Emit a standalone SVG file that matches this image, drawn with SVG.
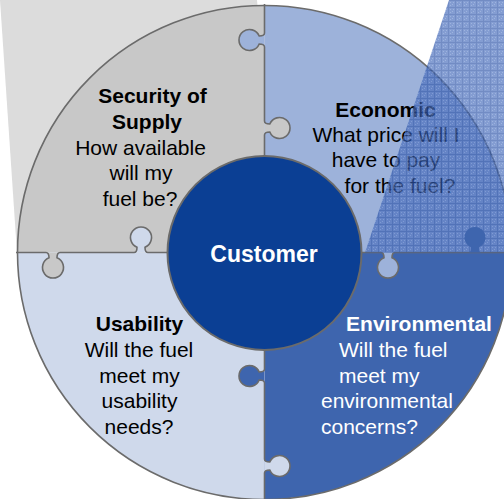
<svg xmlns="http://www.w3.org/2000/svg" width="504" height="499" viewBox="0 0 504 499">
<defs>
<pattern id="hatch" width="7" height="7" patternUnits="userSpaceOnUse">
<rect width="7" height="7" fill="#4a6fbd"/>
<path d="M0,0.5 H7 M0.5,0 V7" stroke="#2f56a8" stroke-width="1"/>
<rect x="2" y="2" width="1" height="1" fill="#6f8fcf"/>
<rect x="4" y="4" width="1" height="1" fill="#6f8fcf"/>
<rect x="2" y="5" width="1" height="1" fill="#6f8fcf"/>
<rect x="5" y="2" width="1" height="1" fill="#6f8fcf"/>
</pattern>
<style>
.t{font-family:"Liberation Sans",Arial,sans-serif;font-size:21px;fill:#000;text-anchor:middle}
.b{font-weight:bold}
.w{fill:#fff}
.s{text-anchor:start}
.line{fill:none;stroke:#6b6b6b;stroke-width:1.6}
</style>
</defs>
<polygon id="backdrop" points="0,0 257,0 268,120 17,253" fill="#dcdcdc"/>
<g id="security">
<path d="M264.5,252.5 L17.5,252.5 A247,247 0 0 1 264.5,5.5 Z" fill="#c8c8c8"/>
</g>
<g id="economic">
<path d="M264.5,252.5 V5.5 A247,247 0 0 1 511.5,252.5 Z" fill="#9db2da"/>
</g>
<g id="environmental">
<path d="M264.5,252.5 H511.5 A247,247 0 0 1 264.5,499.5 Z" fill="#3e65ae"/>
</g>
<g id="usability">
<path d="M264.5,252.5 V499.5 A247,247 0 0 1 17.5,252.5 Z" fill="#cfd9eb"/>
</g>
<g id="knobs">
<path d="M264.5,33 C264.5,35.5 262.5,36 259.2,36 A10.5,10.5 0 1 0 259.2,44 C262.5,44 264.5,44.5 264.5,47 Z" fill="#9db2da"/>
<path d="M264.5,121 C264.5,123.5 266.5,124 269.8,124 A10.5,10.5 0 1 1 269.8,132 C266.5,132 264.5,132.5 264.5,135 Z" fill="#c8c8c8"/>
<path d="M264.5,369 C264.5,371.5 262.5,372 259.2,372 A10.5,10.5 0 1 0 259.2,380 C262.5,380 264.5,380.5 264.5,383 Z" fill="#3e65ae"/>
<path d="M264.5,459 C264.5,461.5 266.5,462 269.8,462 A10.5,10.5 0 1 1 269.8,470 C266.5,470 264.5,470.5 264.5,473 Z" fill="#cfd9eb"/>
<path d="M46,252.5 C48.5,252.5 49,254.5 49,257.8 A10.5,10.5 0 1 0 57,257.8 C57,254.5 57.5,252.5 60,252.5 Z" fill="#c8c8c8"/>
<path d="M134,252.5 C136.5,252.5 137,250.5 137,247.2 A10.5,10.5 0 1 1 145,247.2 C145,250.5 145.5,252.5 148,252.5 Z" fill="#cfd9eb"/>
<path d="M381,252.5 C383.5,252.5 384,254.5 384,257.8 A10.5,10.5 0 1 0 392,257.8 C392,254.5 392.5,252.5 395,252.5 Z" fill="#9db2da"/>
</g>
<g id="connectors">
<path class="line" d="M264.5,4 V33 C264.5,35.5 262.5,36 259.2,36 A10.5,10.5 0 1 0 259.2,44 C262.5,44 264.5,44.5 264.5,47 V121 C264.5,123.5 266.5,124 269.8,124 A10.5,10.5 0 1 1 269.8,132 C266.5,132 264.5,132.5 264.5,135 V158"/>
<path class="line" d="M264.5,348 V369 C264.5,371.5 262.5,372 259.2,372 A10.5,10.5 0 1 0 259.2,380 C262.5,380 264.5,380.5 264.5,383 V459 C264.5,461.5 266.5,462 269.8,462 A10.5,10.5 0 1 1 269.8,470 C266.5,470 264.5,470.5 264.5,473 V500"/>
<path class="line" d="M16,252.5 H46 C48.5,252.5 49,254.5 49,257.8 A10.5,10.5 0 1 0 57,257.8 C57,254.5 57.5,252.5 60,252.5 H134 C136.5,252.5 137,250.5 137,247.2 A10.5,10.5 0 1 1 145,247.2 C145,250.5 145.5,252.5 148,252.5 H169"/>
<path class="line" d="M360,252.5 H381 C383.5,252.5 384,254.5 384,257.8 A10.5,10.5 0 1 0 392,257.8 C392,254.5 392.5,252.5 395,252.5 H513"/>
<circle class="line" cx="264.5" cy="252.5" r="247"/>
</g>
<g id="security-text">
<text class="t b" x="152.5" y="103">Security of</text>
<text class="t b" x="147" y="129">Supply</text>
<text class="t" x="140.5" y="155">How available</text>
<text class="t" x="141" y="180">will my</text>
<text class="t" x="140" y="206">fuel be?</text>
</g>
<g id="economic-text">
<text class="t b" x="385.5" y="117">Economic</text>
<text class="t" x="386" y="142">What price will I</text>
<text class="t" x="386" y="167">have to pay</text>
<text class="t" x="400" y="193">for the fuel?</text>
</g>
<g id="usability-text">
<text class="t b" x="139.5" y="331">Usability</text>
<text class="t" x="139" y="357">Will the fuel</text>
<text class="t" x="139.5" y="383">meet my</text>
<text class="t" x="139.5" y="408">usability</text>
<text class="t" x="139" y="434">needs?</text>
</g>
<g id="environmental-text">
<text class="t b w" x="419" y="331">Environmental</text>
<text class="t w s" x="339" y="357">Will the fuel</text>
<text class="t w s" x="339" y="383">meet my</text>
<text class="t w s" x="321" y="408">environmental</text>
<text class="t w s" x="321" y="434">concerns?</text>
</g>
<polygon id="beam" points="449,0 504,0 504,252.5 365,252.5" fill="url(#hatch)" opacity="0.68"/>
<path id="env-knob" d="M468,252.5 C470.5,252.5 471,250.5 471,247.2 A10.5,10.5 0 1 1 479,247.2 C479,250.5 479.5,252.5 482,252.5 Z" fill="#3e65ae"/>
<g id="customer">
<circle cx="264.5" cy="253" r="97" fill="#0b3f94" stroke="#6b6b6b" stroke-width="2"/>
<text class="t b w" x="264" y="262" style="font-size:23px">Customer</text>
</g>
</svg>
